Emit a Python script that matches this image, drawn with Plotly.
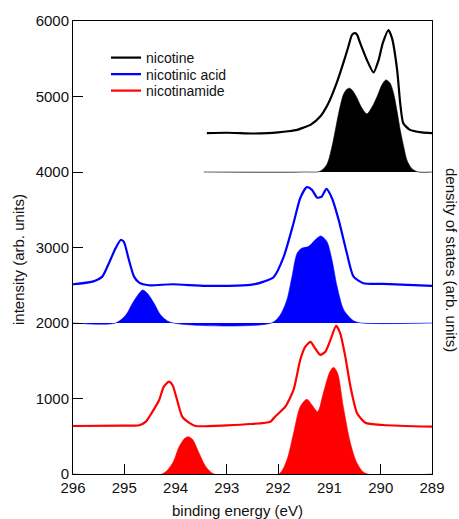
import plotly.graph_objects as go

# ---- data (binding energy in eV, intensity in arb. units) ----
nicotine_x = [293.39, 293.0, 292.5, 292.2, 292.0, 291.8, 291.63, 291.5, 291.37, 291.18, 291.02, 290.86,
              290.73, 290.63, 290.56, 290.50, 290.46, 290.40, 290.27, 290.14, 290.04, 289.96, 289.85,
              289.78, 289.68, 289.62, 289.56, 289.43, 289.2, 289.0]
nicotine_y = [4514, 4520, 4510, 4515, 4525, 4540, 4558, 4590, 4624, 4734, 4911, 5177,
              5442, 5662, 5817, 5840, 5817, 5706, 5485, 5318, 5485, 5706, 5880,
              5773, 5353, 4911, 4647, 4558, 4525, 4514]

nicotine_dos_x = [293.45, 291.5, 291.18, 291.05, 290.95, 290.82, 290.73, 290.67, 290.61, 290.55, 290.46,
                  290.37, 290.27, 290.17, 290.07, 289.98, 289.90, 289.82, 289.75, 289.68, 289.62,
                  289.55, 289.49, 289.40, 289.29, 289.0]
nicotine_dos_y = [4000, 4000, 4010, 4100, 4337, 4779, 5022, 5090, 5110, 5080, 4978,
                  4850, 4770, 4860, 5000, 5150, 5220, 5180, 5044, 4800, 4558,
                  4330, 4160, 4050, 4004, 4000]

acid_x = [296.0, 295.62, 295.43, 295.30, 295.17, 295.07, 295.01, 294.91, 294.81, 294.71, 294.52, 294.06,
          293.41, 292.54, 292.28, 292.09, 291.89, 291.70, 291.57, 291.44, 291.34, 291.24, 291.15,
          291.06, 290.95, 290.82, 290.66, 290.53, 290.34, 289.95, 289.0]
acid_y = [2513, 2548, 2614, 2792, 2990, 3100, 3078, 2836, 2614, 2535, 2500, 2513,
          2491, 2504, 2548, 2606, 2880, 3322, 3653, 3799, 3763, 3660, 3675,
          3776, 3653, 3366, 2924, 2614, 2527, 2518, 2491]

acid_dos_x = [296.0, 295.17, 294.97, 294.84, 294.71, 294.64, 294.55, 294.42, 294.29, 294.10, 292.13,
              291.96, 291.83, 291.73, 291.63, 291.54, 291.41, 291.28, 291.17, 291.05, 290.95,
              290.85, 290.72, 290.53, 290.37, 289.0]
acid_dos_y = [2000, 2000, 2106, 2261, 2393, 2437, 2393, 2261, 2106, 2009, 2000,
              2106, 2305, 2614, 2924, 2990, 3012, 3100, 3153, 3078, 2835,
              2482, 2172, 2030, 2000, 2000]

amide_x = [296.0, 295.0, 294.71, 294.58, 294.45, 294.32, 294.23, 294.13, 294.06, 293.97, 293.87, 293.74,
           293.61, 293.0, 292.54, 292.15, 292.06, 291.86, 291.70, 291.57, 291.47, 291.37, 291.28,
           291.18, 291.08, 290.98, 290.87, 290.79, 290.69, 290.59, 290.46, 290.30, 289.95, 289.0]
amide_y = [636, 640, 645, 693, 826, 980, 1157, 1223, 1179, 980, 759, 680,
           636, 645, 662, 693, 759, 892, 1113, 1510, 1687, 1749, 1665,
           1577, 1620, 1776, 1961, 1864, 1554, 1157, 804, 680, 649, 627]

amide_dos_x = [296.0, 294.26, 294.06, 293.93, 293.82, 293.75, 293.67, 293.54, 293.41, 293.25, 291.99,
               291.83, 291.70, 291.57, 291.44, 291.34, 291.23, 291.12, 290.99, 290.92, 290.84,
               290.73, 290.59, 290.46, 290.30, 289.0]
amide_dos_y = [0, 0, 142, 362, 473, 494, 459, 274, 97, 0, 0,
               186, 539, 892, 990, 914, 826, 1069, 1356, 1413, 1334,
               892, 407, 142, 9, 0]

names = ["nicotine", "nicotinic acid", "nicotinamide"]
colors = ["#000000", "#0000FF", "#FF0000"]

x_ticks = [296, 295, 294, 293, 292, 291, 290, 289]
y_ticks = [0, 1000, 2000, 3000, 4000, 5000, 6000]

FONT = "Liberation Sans, Arial, sans-serif"

fig = go.Figure()

spectra = [(nicotine_x, nicotine_y), (acid_x, acid_y), (amide_x, amide_y)]
dos = [(nicotine_dos_x, nicotine_dos_y), (acid_dos_x, acid_dos_y), (amide_dos_x, amide_dos_y)]

for (dx, dy), c in zip(dos, colors):
    fig.add_trace(go.Scatter(x=dx, y=dy, mode="lines", fill="toself", fillcolor=c,
                             line=dict(color=c, width=0.6, shape="spline", smoothing=0.8),
                             showlegend=False, hoverinfo="skip"))

legend_ids = ["legend", "legend2", "legend3"]
for (sx, sy), c, n, lg in zip(spectra, colors, names, legend_ids):
    fig.add_trace(go.Scatter(x=sx, y=sy, mode="lines", name=n, legend=lg,
                             line=dict(color=c, width=2.2, shape="spline", smoothing=0.6)))

W, H = 459, 519
L, R, T, B = 73, 27, 21, 45
pw, ph = W - L - R, H - T - B

def px_x(p):
    return (p - L) / pw

def px_y(p):
    return (H - B - p) / ph

axis_common = dict(showline=True, linecolor="black", linewidth=1, mirror=True,
                   ticks="inside", ticklen=10, tickcolor="black", tickwidth=1,
                   showgrid=False, zeroline=False,
                   tickfont=dict(family=FONT, size=15, color="#111"))

legend_style = dict(xanchor="left", yanchor="top", bgcolor="rgba(0,0,0,0)",
                    font=dict(family=FONT, size=14, color="#111"))
legend_centers = [57, 73.5, 90]

title_font = dict(family=FONT, size=15, color="#111")

fig.update_layout(
    width=W, height=H,
    margin=dict(l=L, r=R, t=T, b=B, autoexpand=False),
    paper_bgcolor="white", plot_bgcolor="white",
    xaxis=dict(range=[296, 289], tickvals=x_ticks, ticktext=[str(v) for v in x_ticks],
               layer="below traces", **axis_common),
    yaxis=dict(range=[0, 6000], tickvals=y_ticks, ticktext=[str(v) for v in y_ticks],
               **axis_common),
    legend=dict(x=px_x(106), y=px_y(legend_centers[0] - 15), **legend_style),
    legend2=dict(x=px_x(106), y=px_y(legend_centers[1] - 15), **legend_style),
    legend3=dict(x=px_x(106), y=px_y(legend_centers[2] - 15), **legend_style),
    annotations=[
        dict(text="binding energy (eV)", xref="paper", yref="paper",
             x=px_x(237), y=px_y(510), xanchor="center", yanchor="middle",
             showarrow=False, font=title_font),
        dict(text="intensity (arb. units)", xref="paper", yref="paper", textangle=-90,
             x=px_x(18), y=px_y(260), xanchor="center", yanchor="middle",
             showarrow=False, font=title_font),
        dict(text="density of states (arb. units)", xref="paper", yref="paper", textangle=90,
             x=px_x(452), y=px_y(260), xanchor="center", yanchor="middle",
             showarrow=False, font=title_font),
    ],
)

fig.write_html("out.html", config={"displayModeBar": False},
               post_script="document.body.style.margin='0px';document.body.style.overflow='hidden';")
